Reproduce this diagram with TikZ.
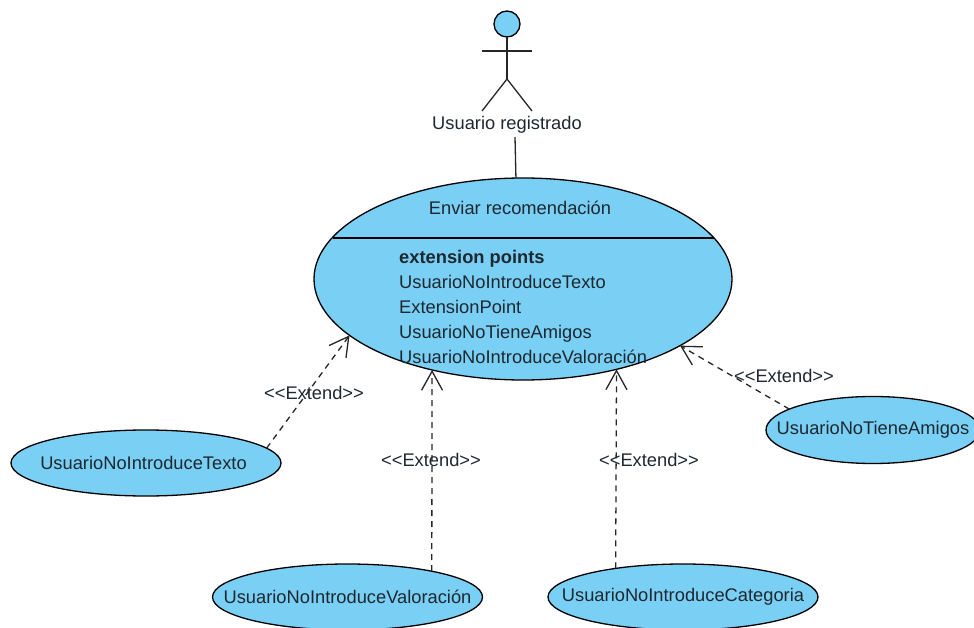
\documentclass[tikz,border=0pt]{standalone}
\usepackage{fontspec}
\setmainfont{Liberation Sans}
\usetikzlibrary{shapes.geometric,arrows.meta}
\definecolor{ucblue}{RGB}{122,207,245}
\definecolor{uctext}{RGB}{30,40,48}
\newcommand{\uclabel}[1]{\makebox[0pt]{#1}}
\newcommand{\extendtext}{{<}{<}Extend{>}{>}}
\begin{document}
\begin{tikzpicture}[x=1pt,y=-1pt,
    usecase/.style={ellipse,draw=black,fill=ucblue,line width=1.3pt,inner sep=0pt,outer sep=0pt,minimum width=270pt,minimum height=66pt,text=uctext,font=\fontsize{18.3}{25}\selectfont},
    plaintext/.style={text=uctext,inner sep=0pt,font=\fontsize{18.3}{25}\selectfont},
    extendline/.style={draw=black!85,line width=1.3pt,dash pattern=on 6pt off 5pt,-{Straight Barb[length=19pt,width=21pt,line width=1.3pt]}},
    limb/.style={draw=black!85,line width=1.3pt}]
\useasboundingbox (0,0) rectangle (974,628);
\node[circle,draw=black,fill=ucblue,line width=1.3pt,minimum size=26pt,inner sep=0pt,outer sep=0pt] (head) at (507,24) {};
\coordinate (hip) at (507,79);
\coordinate (armL) at (482,51);
\coordinate (armR) at (532,51);
\coordinate (legL) at (482,111);
\coordinate (legR) at (532,111);
\draw[limb] (head) -- (hip);
\draw[limb] (armL) -- (armR);
\draw[limb] (legL) -- (hip) -- (legR);
\node[plaintext] (actorname) at (507,125) {Usuario registrado};
\node[usecase,minimum width=418pt,minimum height=202pt] (main) at (523,279) {};
\coordinate (tail) at (515,137);
\draw[limb] (tail) -- (main.94.9);
\coordinate (sepL) at (332.5,238);
\coordinate (sepR) at (714,238);
\draw[limb,draw=black] (sepL) -- (sepR);
\node[plaintext] (title) at (520,208) {Enviar recomendación};
\node[plaintext,anchor=north west,align=left] (points) at (399,250) {\textbf{extension points}\\UsuarioNoIntroduceTexto\\ExtensionPoint\\UsuarioNoTieneAmigos\\UsuarioNoIntroduceValoración};
\node[usecase] (texto) at (146,463) {\uclabel{UsuarioNoIntroduceTexto\kern5pt}};
\node[usecase] (valoracion) at (347.5,597) {\uclabel{UsuarioNoIntroduceValoración}};
\node[usecase] (categoria) at (683,597) {\uclabel{UsuarioNoIntroduceCategoria}};
\node[usecase,minimum width=214pt,minimum height=67pt] (amigos) at (873,430) {\uclabel{UsuarioNoTieneAmigos}};
\draw[extendline] (texto.7) -- (main.198);
\draw[extendline] (valoracion.17.8) -- (main.225.3);
\draw[extendline] (categoria.157.5) -- (main.316.7);
\draw[extendline] (amigos.166) -- (main.337.3);
\node[plaintext] (ext1) at (314,393) {\extendtext};
\node[plaintext] (ext2) at (431,460) {\extendtext};
\node[plaintext] (ext3) at (649,460) {\extendtext};
\node[plaintext] (ext4) at (784,376) {\extendtext};
\end{tikzpicture}
\end{document}
